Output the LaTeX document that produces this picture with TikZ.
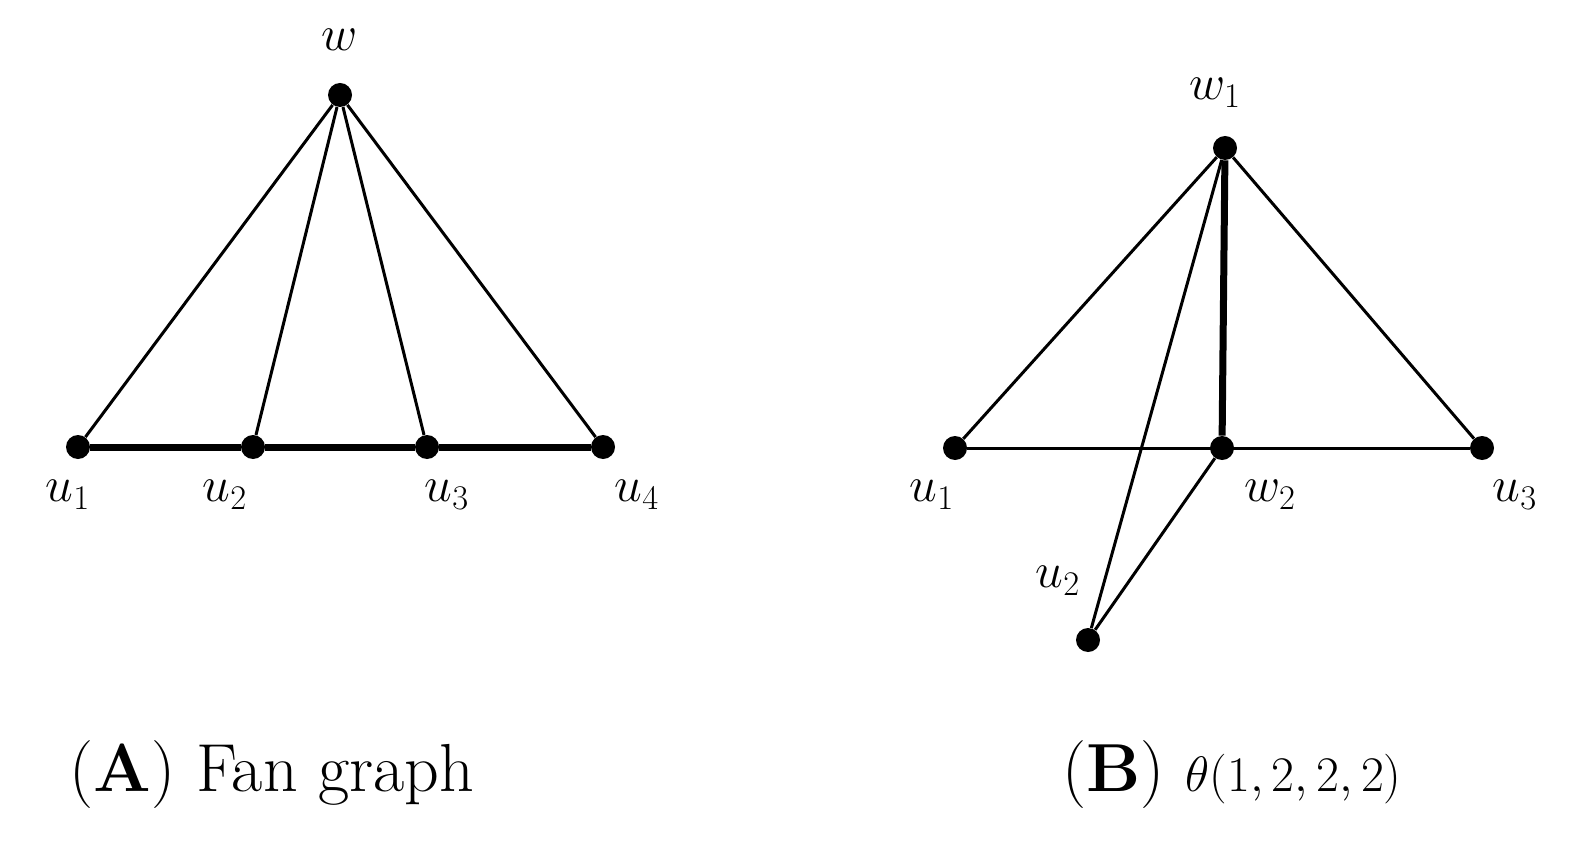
\documentclass[tikz,border=0pt]{standalone}
\usepackage{amsmath}
\begin{document}
\begin{tikzpicture}[x=0.5pt,y=-0.5pt,
  vtx/.style={circle,fill=black,inner sep=0pt,minimum size=12pt},
  lbl/.style={font=\fontsize{27}{30}\selectfont},
  thinedge/.style={line width=1.5pt},
  thickedge/.style={line width=3.5pt},
  captext/.style={font=\fontsize{34}{40}\selectfont}]
\useasboundingbox (0,0) rectangle (1582,855);
% (A)
\node[vtx] (w) at (340,95) {};
\node[vtx] (a1) at (78,447) {};
\node[vtx] (a2) at (253,447) {};
\node[vtx] (a3) at (427,447) {};
\node[vtx] (a4) at (603,447) {};
\foreach \v in {a1,a2,a3,a4} \draw[thinedge] (w) -- (\v);
\draw[thickedge] (a1) -- (a2) -- (a3) -- (a4);
\node[lbl] (lw) at (340,40) {$w$};
\node[lbl] (la1) at (68,495) {$u_1$};
\node[lbl] (la2) at (225,495) {$u_2$};
\node[lbl] (la3) at (447,495) {$u_3$};
\node[lbl] (la4) at (637,495) {$u_4$};
\node[captext] (ca) at (272,775) {(\textbf{A}) Fan graph};
% (B)
\node[vtx] (w1) at (1225,148) {};
\node[vtx] (b1) at (955,448) {};
\node[vtx] (w2) at (1222,448) {};
\node[vtx] (b3) at (1482,448) {};
\node[vtx] (b2) at (1088,640) {};
\draw[thinedge] (w1) -- (b1);
\draw[thinedge] (w1) -- (b3);
\draw[thinedge] (w1) -- (b2);
\draw[thinedge] (b1) -- (b3);
\draw[thinedge] (w2) -- (b2);
\draw[thickedge] (w1) -- (w2);
\node[lbl] (lw1) at (1215,93) {$w_1$};
\node[lbl] (lb1) at (932,495) {$u_1$};
\node[lbl] (lw2) at (1270,495) {$w_2$};
\node[lbl] (lb3) at (1515,495) {$u_3$};
\node[lbl] (lb2) at (1058,581) {$u_2$};
\node[captext] (cb) at (1232,775) {(\textbf{B}) $\theta(1,2,2,2)$};
\end{tikzpicture}
\end{document}
